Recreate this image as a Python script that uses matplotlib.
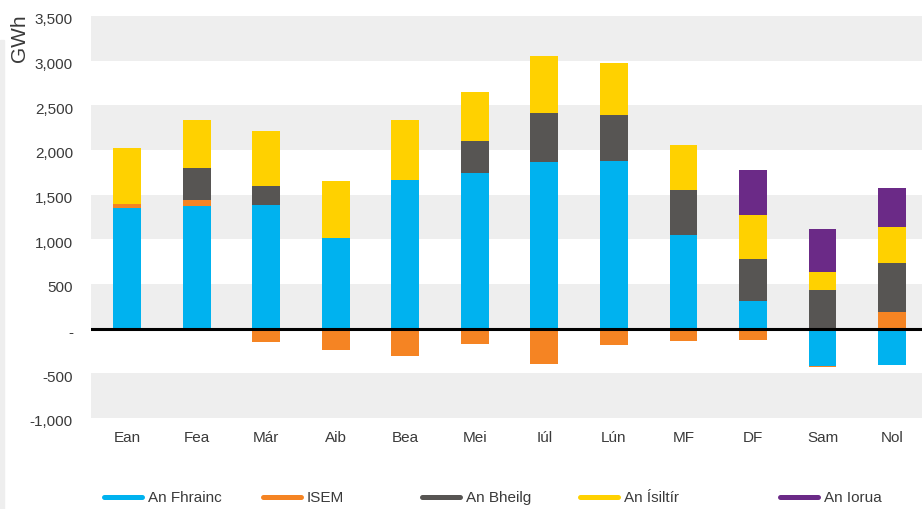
import matplotlib
matplotlib.use('Agg')
from matplotlib import pyplot as plt
from matplotlib.lines import Line2D
from matplotlib.patches import Rectangle
from matplotlib.transforms import ScaledTranslation
import numpy as np

plt.rcParams['font.family'] = ['Liberation Sans', 'DejaVu Sans']

# míonna
months = ['Ean', 'Fea', 'Már', 'Aib', 'Bea', 'Mei', 'Iúl', 'Lún', 'MF', 'DF', 'Sam', 'Nol']

# GWh per interconnector
france      = [1346, 1369, 1388, 1010, 1667, 1746, 1869, 1880, 1052, 313, -414, -403]
isem        = [53, 74, -153, -235, -302, -168, -392, -179, -134, -123, -19, 190]
belgium     = [0, 359, 212, 0, 0, 358, 548, 515, 503, 470, 436, 548]
netherlands = [626, 537, 616, 646, 672, 548, 638, 582, 504, 493, 202, 403]
norway      = [0, 0, 0, 0, 0, 0, 0, 0, 0, 503, 481, 437]

series = [france, isem, belgium, netherlands, norway]
names = ['An Fhrainc', 'ISEM', 'An Bheilg', 'An Ísiltír', 'An Iorua']
colors = ['#00b2ef', '#f58423', '#575553', '#ffd100', '#6b2a87']

yticks = [-1000, -500, 0, 500, 1000, 1500, 2000, 2500, 3000, 3500]
ytick_labels = ['-1,000', '-500', '-', '500', '1,000', '1,500', '2,000', '2,500', '3,000', '3,500']

txt = '#3a3a3a'
W, H = 922, 509
fig = plt.figure(figsize=(W / 100, H / 100), dpi=100)
ax = fig.add_axes([91 / W, (H - 418) / H, (W - 91) / W, (418 - 16) / H])

# grey bands
for lo in range(-1000, 3500, 1000):
    ax.axhspan(lo, lo + 500, color='#eeeeee', zorder=0, lw=0)

x = np.arange(len(months))
pos = np.zeros(len(months))
neg = np.zeros(len(months))
for vals, name, c in zip(series, names, colors):
    v = np.array(vals, dtype=float)
    bottom = np.where(v >= 0, pos, neg)
    ax.bar(x, v, 0.4, bottom=bottom, color=c, label=name, zorder=2, lw=0)
    pos = pos + np.where(v > 0, v, 0)
    neg = neg + np.where(v < 0, v, 0)

ax.axhline(0, color='black', lw=2.2, zorder=3)

ax.set_xlim(-0.52, 11.43)
ax.set_ylim(-1000, 3500)
ax.set_yticks(yticks)
ax.set_yticklabels(ytick_labels)
ax.set_xticks(x)
ax.set_xticklabels(months)
ax.tick_params(axis='y', length=0, pad=13, labelsize=11, labelcolor=txt)
ax.tick_params(axis='x', length=0, pad=9, labelsize=11, labelcolor=txt)
# labels sit a little below their gridline in the original
shift = ScaledTranslation(0, -3 / 100, fig.dpi_scale_trans)
for lab in ax.get_yticklabels():
    lab.set_transform(lab.get_transform() + shift)
for s in ax.spines.values():
    s.set_visible(False)

fig.text(20 / W, 1 - 38 / H, 'GWh', rotation=90, ha='center', va='center',
         fontsize=15, color=txt)

# legend, one entry each at its own place
leg_x = [104, 263, 422, 580, 780]
for lx, name, c in zip(leg_x, names, colors):
    h = Line2D([], [], color=c, lw=3.6, solid_capstyle='round')
    lg = fig.legend([h], [name], loc='center left',
                    bbox_to_anchor=(lx / W, 1 - 498 / H), frameon=False,
                    fontsize=11, handlelength=2.5, handletextpad=0.35,
                    borderpad=0, borderaxespad=0)
    for t in lg.get_texts():
        t.set_color(txt)

# faint strip at the left edge
fig.patches.append(Rectangle((0, 0), 4 / W, (H - 40) / H, transform=fig.transFigure,
                             color='#eeeeee', zorder=0))

fig.savefig('out.png', dpi=100)
